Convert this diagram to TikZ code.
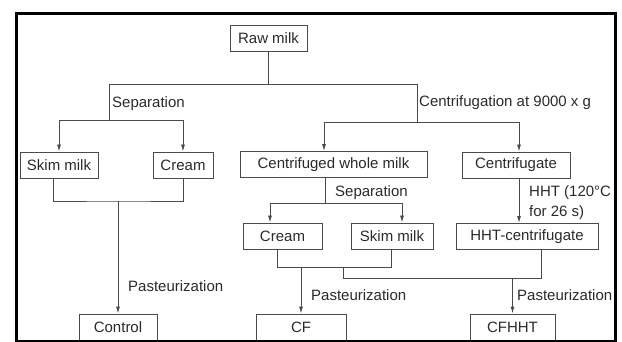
\documentclass[tikz,border=0pt]{standalone}
\usepackage{fontspec}
\setmainfont{Liberation Sans}
\usetikzlibrary{arrows.meta}
\definecolor{inkgray}{HTML}{2A2A2A}
\definecolor{linegray}{HTML}{4A4A4A}
\begin{document}
\begin{tikzpicture}[x=1pt, y=-1pt,
        every node/.style = {font=\fontsize{15}{20}\selectfont, text=inkgray},
        box/.style = {draw=linegray, line width=0.9pt, minimum height=26pt, inner sep=2pt},
        lbl/.style = {anchor=west, inner sep=0pt},
        arr/.style = {-{Latex[length=7pt, width=4pt]}},
        conn/.style = {draw=linegray, line width=0.9pt}]
        \useasboundingbox (0, 0) rectangle (622, 342);
        \node[box, minimum width=77pt] (raw) at (268.5, 38) {Raw milk};
        \node[box, minimum width=78pt] (skimA) at (59, 165) {Skim milk};
        \node[box, minimum width=60pt] (creamA) at (183, 165) {Cream};
        \node[box, minimum width=187pt] (cwm) at (333.5, 164.5) {Centrifuged whole milk};
        \node[box, minimum width=108pt] (cfg) at (516, 165) {Centrifugate};
        \node[box, minimum width=79pt] (creamB) at (282.5, 236) {Cream};
        \node[box, minimum width=82pt] (skimB) at (392, 236) {Skim milk};
        \node[box, minimum width=142pt] (hht) at (527, 236.5) {HHT-centrifugate};
        \node[box, minimum width=78pt] (control) at (118, 327) {Control};
        \node[box, minimum width=90pt] (cf) at (301, 327) {CF};
        \node[box, minimum width=85pt] (cfhht) at (512.5, 327) {CFHHT};
        % junctions
        \coordinate (sepL) at (109, 84);
        \coordinate (cenR) at (417, 84);
        \coordinate (sepA) at (109, 120);
        \coordinate (cenA) at (417, 122);
        \coordinate (sepB) at (325, 203);
        \coordinate (jA) at (118, 201);
        \coordinate (jl) at (277, 267);
        \coordinate (jr) at (391, 267);
        \coordinate (jh) at (343, 278);
        % raw milk split
        \draw[conn] (raw) -- (raw.south |- sepL);
        \draw[conn] (sepL) -- (cenR);
        \draw[conn, arr] (sepL) -- (sepA) -| (skimA);
        \draw[conn, arr] (sepA) -| (creamA);
        \draw[conn, arr] (cenR) -- (cenA) -| ([xshift=-9.5pt]cwm.north);
        \draw[conn, arr] (cenA) -| ([xshift=3pt]cfg.north);
        \node[lbl] (sepAlbl) at (112, 104) {Separation};
        \node[lbl] (cenlbl) at (419, 103) {Centrifugation at 9000 x g};
        % second separation
        \draw[conn] ([xshift=-8.5pt]cwm.south) -- (sepB);
        \draw[conn, arr] (sepB) -| ([xshift=-12.5pt]creamB.north);
        \draw[conn, arr] (sepB) -| ([xshift=10pt]skimB.north);
        \node[lbl] (sepBlbl) at (335, 193) {Separation};
        \draw[conn, arr] ([xshift=3pt]cfg.south) -- ([xshift=3pt]cfg.south |- hht.north);
        \node[lbl, align=left] (hhtlbl) at (529, 203) {HHT (120°C\\for 26 s)};
        % control
        \draw[conn] ([xshift=-6pt]skimA.south) |- (jA) -| (creamA.south);
        \draw[conn, arr] (jA) -- (control);
        \node[lbl] (pastA) at (128, 286) {Pasteurization};
        % CF and CFHHT
        \draw[conn] (creamB.south -| jl) -- (jl) -- (jr) -- (skimB.south -| jr);
        \draw[conn, arr] (cf |- jl) -- (cf);
        \node[lbl] (pastB) at (311, 295) {Pasteurization};
        \draw[conn] (jh |- jl) -- (jh) -| ([xshift=14pt]hht.south);
        \draw[conn, arr] (cfhht |- jh) -- (cfhht);
        \node[lbl] (pastC) at (517, 295) {Pasteurization};
        % frame
        \fill[white] (615, 0) rectangle (622, 342);
        \draw[line width=3pt] (16.5, 13.5) rectangle (615, 341.5);
    \end{tikzpicture}
\end{document}
